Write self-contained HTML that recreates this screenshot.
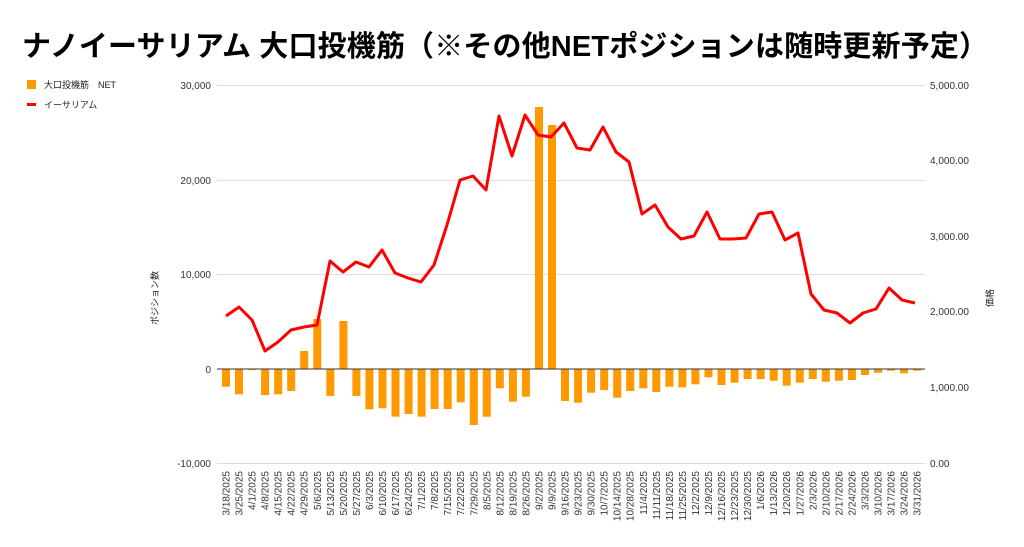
<!DOCTYPE html>
<html><head><meta charset="utf-8"><style>
html,body{margin:0;padding:0;background:#fff;width:1024px;height:547px;overflow:hidden}
svg{display:block;font-family:"Liberation Sans","Noto Sans CJK JP",sans-serif}
</style></head><body>
<svg width="1024" height="547" viewBox="0 0 1024 547">
<text x="22" y="56" font-size="29" font-weight="bold" fill="#000" textLength="966" lengthAdjust="spacing" font-family="'Liberation Sans','Noto Sans CJK JP',sans-serif">ナノイーサリアム 大口投機筋（※その他NETポジションは随時更新予定）</text>
<rect x="27" y="80" width="9" height="9" fill="#ff9900"/>
<text x="44" y="88" font-size="9" fill="#222">大口投機筋　NET</text>
<rect x="27" y="103" width="9" height="3" fill="#ff0000"/>
<text x="44" y="108" font-size="9" fill="#222">イーサリアム</text>
<g stroke="#ddd" stroke-width="1">
<line x1="217" x2="925" y1="85.5" y2="85.5"/><line x1="217" x2="925" y1="180.5" y2="180.5"/><line x1="217" x2="925" y1="274.5" y2="274.5"/><line x1="217" x2="925" y1="463.5" y2="463.5"/>
</g>
<g font-size="10" fill="#333" text-anchor="end">
<text x="211" y="89">30,000</text><text x="211" y="184">20,000</text><text x="211" y="278">10,000</text><text x="211" y="373">0</text><text x="211" y="467">-10,000</text>
</g>
<g font-size="10" fill="#333">
<text x="930" y="89">5,000.00</text><text x="930" y="164">4,000.00</text><text x="930" y="240">3,000.00</text><text x="930" y="315">2,000.00</text><text x="930" y="391">1,000.00</text><text x="930" y="467">0.00</text>
</g>
<text transform="translate(158,298) rotate(-90)" font-size="9" text-anchor="middle" fill="#222">ポジション数</text>
<text transform="translate(993,298) rotate(-90)" font-size="9" text-anchor="middle" fill="#222">価格</text>
<g fill="#ff9900">
<rect x="222" y="369" width="8" height="17.7"/>
<rect x="235" y="369" width="8" height="25.3"/>
<rect x="248.1" y="369" width="8" height="1"/>
<rect x="261.1" y="369" width="8" height="26"/>
<rect x="274.2" y="369" width="8" height="25.3"/>
<rect x="287.2" y="369" width="8" height="22"/>
<rect x="300.2" y="351" width="8" height="18"/>
<rect x="313.3" y="319" width="8" height="50"/>
<rect x="326.3" y="369" width="8" height="27"/>
<rect x="339.4" y="321" width="8" height="48"/>
<rect x="352.4" y="369" width="8" height="27"/>
<rect x="365.4" y="369" width="8" height="40.3"/>
<rect x="378.5" y="369" width="8" height="39.3"/>
<rect x="391.5" y="369" width="8" height="47.7"/>
<rect x="404.6" y="369" width="8" height="45"/>
<rect x="417.6" y="369" width="8" height="47.7"/>
<rect x="430.6" y="369" width="8" height="40"/>
<rect x="443.7" y="369" width="8" height="40"/>
<rect x="456.7" y="369" width="8" height="33.3"/>
<rect x="469.8" y="369" width="8" height="56"/>
<rect x="482.8" y="369" width="8" height="47.7"/>
<rect x="495.8" y="369" width="8" height="19.3"/>
<rect x="508.9" y="369" width="8" height="32.7"/>
<rect x="521.9" y="369" width="8" height="27.7"/>
<rect x="535" y="107" width="8" height="262"/>
<rect x="548" y="125" width="8" height="244"/>
<rect x="561" y="369" width="8" height="32"/>
<rect x="574.1" y="369" width="8" height="33.7"/>
<rect x="587.1" y="369" width="8" height="23.7"/>
<rect x="600.2" y="369" width="8" height="21"/>
<rect x="613.2" y="369" width="8" height="28.7"/>
<rect x="626.2" y="369" width="8" height="22"/>
<rect x="639.3" y="369" width="8" height="19.3"/>
<rect x="652.3" y="369" width="8" height="23"/>
<rect x="665.4" y="369" width="8" height="17.7"/>
<rect x="678.4" y="369" width="8" height="18.3"/>
<rect x="691.4" y="369" width="8" height="15.3"/>
<rect x="704.5" y="369" width="8" height="8.3"/>
<rect x="717.5" y="369" width="8" height="16"/>
<rect x="730.6" y="369" width="8" height="13.7"/>
<rect x="743.6" y="369" width="8" height="10"/>
<rect x="756.6" y="369" width="8" height="10"/>
<rect x="769.7" y="369" width="8" height="11.7"/>
<rect x="782.7" y="369" width="8" height="16.7"/>
<rect x="795.8" y="369" width="8" height="13.7"/>
<rect x="808.8" y="369" width="8" height="10"/>
<rect x="821.8" y="369" width="8" height="12.7"/>
<rect x="834.9" y="369" width="8" height="11.7"/>
<rect x="847.9" y="369" width="8" height="11"/>
<rect x="861" y="369" width="8" height="6"/>
<rect x="874" y="369" width="8" height="3.7"/>
<rect x="887" y="369" width="8" height="1.7"/>
<rect x="900.1" y="369" width="8" height="4.3"/>
<rect x="913.1" y="369" width="8" height="1.7"/>
</g>
<line x1="217" x2="925" y1="369" y2="369" stroke="#333" stroke-width="1"/>
<polyline fill="none" stroke="#ff0000" stroke-width="3" stroke-linejoin="round" points="226,316 239,307 252,320 265,351 278,342 291,330 304,327 317,325 330,261 343,272 356,262 369,267 382,250 395,273 408,278 421,282 434,265 447,225 460,180 473,176 486,190 499,116 512,156 525,115 538,135 551,137 564,123 577,148 590,150 603,127 616,152 629,162 642,214 655,205 668,227 681,239 694,236 707,212 720,239 733,239 746,238 759,214 772,212 785,240 798,233 811,294 824,310 837,313 850,323 863,313 876,309 889,288 902,300 915,303"/>
<g font-size="10" fill="#333" text-anchor="end">
<text transform="translate(229.5,471) rotate(-90)">3/18/2025</text>
<text transform="translate(242.5,471) rotate(-90)">3/25/2025</text>
<text transform="translate(255.6,471) rotate(-90)">4/1/2025</text>
<text transform="translate(268.6,471) rotate(-90)">4/8/2025</text>
<text transform="translate(281.7,471) rotate(-90)">4/15/2025</text>
<text transform="translate(294.7,471) rotate(-90)">4/22/2025</text>
<text transform="translate(307.7,471) rotate(-90)">4/29/2025</text>
<text transform="translate(320.8,471) rotate(-90)">5/6/2025</text>
<text transform="translate(333.8,471) rotate(-90)">5/13/2025</text>
<text transform="translate(346.9,471) rotate(-90)">5/20/2025</text>
<text transform="translate(359.9,471) rotate(-90)">5/27/2025</text>
<text transform="translate(372.9,471) rotate(-90)">6/3/2025</text>
<text transform="translate(386,471) rotate(-90)">6/10/2025</text>
<text transform="translate(399,471) rotate(-90)">6/17/2025</text>
<text transform="translate(412.1,471) rotate(-90)">6/24/2025</text>
<text transform="translate(425.1,471) rotate(-90)">7/1/2025</text>
<text transform="translate(438.1,471) rotate(-90)">7/8/2025</text>
<text transform="translate(451.2,471) rotate(-90)">7/15/2025</text>
<text transform="translate(464.2,471) rotate(-90)">7/22/2025</text>
<text transform="translate(477.3,471) rotate(-90)">7/29/2025</text>
<text transform="translate(490.3,471) rotate(-90)">8/5/2025</text>
<text transform="translate(503.3,471) rotate(-90)">8/12/2025</text>
<text transform="translate(516.4,471) rotate(-90)">8/19/2025</text>
<text transform="translate(529.4,471) rotate(-90)">8/26/2025</text>
<text transform="translate(542.5,471) rotate(-90)">9/2/2025</text>
<text transform="translate(555.5,471) rotate(-90)">9/9/2025</text>
<text transform="translate(568.5,471) rotate(-90)">9/16/2025</text>
<text transform="translate(581.6,471) rotate(-90)">9/23/2025</text>
<text transform="translate(594.6,471) rotate(-90)">9/30/2025</text>
<text transform="translate(607.7,471) rotate(-90)">10/7/2025</text>
<text transform="translate(620.7,471) rotate(-90)">10/14/2025</text>
<text transform="translate(633.7,471) rotate(-90)">10/28/2025</text>
<text transform="translate(646.8,471) rotate(-90)">11/4/2025</text>
<text transform="translate(659.8,471) rotate(-90)">11/11/2025</text>
<text transform="translate(672.9,471) rotate(-90)">11/18/2025</text>
<text transform="translate(685.9,471) rotate(-90)">11/25/2025</text>
<text transform="translate(698.9,471) rotate(-90)">12/2/2025</text>
<text transform="translate(712,471) rotate(-90)">12/9/2025</text>
<text transform="translate(725,471) rotate(-90)">12/16/2025</text>
<text transform="translate(738.1,471) rotate(-90)">12/23/2025</text>
<text transform="translate(751.1,471) rotate(-90)">12/30/2025</text>
<text transform="translate(764.1,471) rotate(-90)">1/6/2026</text>
<text transform="translate(777.2,471) rotate(-90)">1/13/2026</text>
<text transform="translate(790.2,471) rotate(-90)">1/20/2026</text>
<text transform="translate(803.3,471) rotate(-90)">1/27/2026</text>
<text transform="translate(816.3,471) rotate(-90)">2/3/2026</text>
<text transform="translate(829.3,471) rotate(-90)">2/10/2026</text>
<text transform="translate(842.4,471) rotate(-90)">2/17/2026</text>
<text transform="translate(855.4,471) rotate(-90)">2/24/2026</text>
<text transform="translate(868.5,471) rotate(-90)">3/3/2026</text>
<text transform="translate(881.5,471) rotate(-90)">3/10/2026</text>
<text transform="translate(894.5,471) rotate(-90)">3/17/2026</text>
<text transform="translate(907.6,471) rotate(-90)">3/24/2026</text>
<text transform="translate(920.6,471) rotate(-90)">3/31/2026</text>
</g>
</svg>
</body></html>
